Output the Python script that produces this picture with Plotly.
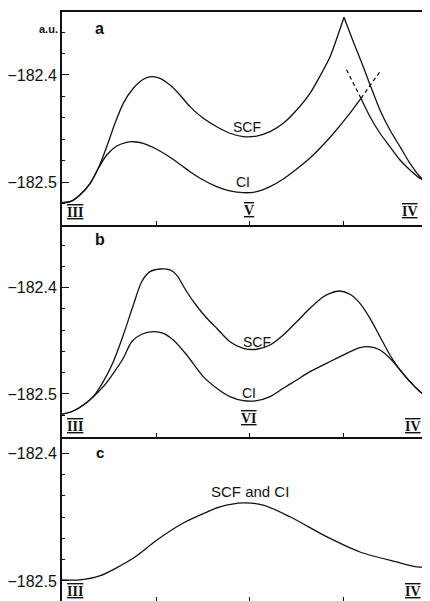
import plotly.graph_objects as go

# ---------------- data (x: reaction coordinate, tick spacing 1; y: energy in a.u.) -------------
# panel a
a_start_x = [0.00, 0.085, 0.19, 0.30, 0.386]
a_start_y = [-182.5190, -182.5181, -182.5118, -182.5009, -182.4870]
a_scf_left_x = a_start_x + [0.476, 0.564, 0.652, 0.759, 0.865, 0.954, 1.043, 1.149, 1.255, 1.362, 1.503, 1.646,
                            1.787, 1.929, 2.071, 2.213, 2.354, 2.497, 2.638, 2.780, 2.851, 2.936, 3.00]
a_scf_left_y = a_start_y + [-182.4668, -182.4450, -182.4264, -182.4124, -182.4040, -182.4016, -182.4031, -182.4093,
                            -182.4186, -182.4295, -182.4404, -182.4482, -182.4543, -182.4575, -182.4569, -182.4528,
                            -182.4450, -182.4326, -182.4171, -182.3953, -182.3832, -182.3627, -182.3462]
a_scf_right_x = [3.00, 3.099, 3.205, 3.277, 3.383, 3.489, 3.596, 3.702, 3.809, 3.915]
a_scf_right_y = [-182.3462, -182.3690, -182.3923, -182.4090, -182.4326, -182.4513, -182.4668, -182.4823, -182.4948, -182.5009]
a_ci_left_x = a_start_x + [0.476, 0.582, 0.688, 0.759, 0.865, 1.007, 1.149, 1.290, 1.362, 1.503, 1.646, 1.787,
                           1.929, 2.071, 2.213, 2.354, 2.497, 2.638, 2.777, 2.883, 3.032, 3.18]
a_ci_left_y = a_start_y + [-182.4746, -182.4662, -182.4627, -182.4622, -182.4637, -182.4692, -182.4767, -182.4855,
                           -182.4901, -182.4979, -182.5041, -182.5081, -182.5097, -182.5088, -182.5041, -182.4969,
                           -182.4876, -182.4774, -182.4652, -182.4550, -182.4391, -182.4217]
a_ci_right_x = [3.18, 3.277, 3.383, 3.489, 3.596, 3.702, 3.809, 3.915]
a_ci_right_y = [-182.4217, -182.4389, -182.4543, -182.4668, -182.4792, -182.4885, -182.4963, -182.5009]
a_dash1_x = [3.18, 3.383]
a_dash1_y = [-182.4217, -182.3969]
a_dash2_x = [3.18, 3.011]
a_dash2_y = [-182.4217, -182.3923]

# panel b
b_start_x = [0.00, 0.12, 0.227, 0.333]
b_start_y = [-182.5191, -182.5160, -182.5103, -182.5025]
b_end_x = [3.596, 3.702, 3.809, 3.915]
b_end_y = [-182.4774, -182.4884, -182.4978, -182.5040]
b_scf_x = b_start_x + [0.439, 0.546, 0.652, 0.759, 0.848, 0.936, 1.043, 1.149, 1.220, 1.327, 1.433, 1.539, 1.646,
                       1.787, 1.929, 2.071, 2.213, 2.354, 2.497, 2.638, 2.780, 2.851, 2.957, 3.064, 3.170, 3.277,
                       3.383, 3.489] + b_end_x
b_scf_y = b_start_y + [-182.4884, -182.4696, -182.4445, -182.4163, -182.3944, -182.3849, -182.3824, -182.3833,
                       -182.3881, -182.4038, -182.4172, -182.4285, -182.4382, -182.4508, -182.4570, -182.4579,
                       -182.4539, -182.4445, -182.4320, -182.4194, -182.4085, -182.4053, -182.4031, -182.4062,
                       -182.4147, -182.4288, -182.4461, -182.4633] + b_end_y
b_ci_x = b_start_x + [0.439, 0.546, 0.652, 0.741, 0.848, 0.971, 1.078, 1.184, 1.327, 1.503, 1.646, 1.787, 1.929,
                      2.071, 2.213, 2.354, 2.497, 2.638, 2.886, 3.029, 3.170, 3.259, 3.383, 3.489] + b_end_x
b_ci_y = b_start_y + [-182.4931, -182.4805, -182.4664, -182.4508, -182.4438, -182.4414, -182.4429, -182.4492,
                      -182.4633, -182.4837, -182.4946, -182.5025, -182.5063, -182.5063, -182.5025, -182.4946,
                      -182.4868, -182.4790, -182.4680, -182.4617, -182.4564, -182.4555, -182.4586, -182.4664] + b_end_y

# panel c
c_x = [0.00, 0.19, 0.40, 0.76, 1.01, 1.29, 1.54, 1.68, 1.93, 2.14, 2.43, 2.82, 3.17, 3.56, 3.78, 3.915]
c_y = [-182.4992, -182.4992, -182.4961, -182.4820, -182.4679, -182.4546, -182.4460, -182.4420, -182.4389,
       -182.4405, -182.4499, -182.4655, -182.4773, -182.4851, -182.4890, -182.4890]

x_ticks = [1, 2, 3]
y_major = [-182.5, -182.4]
y_labels = ["\u2212182.5", "\u2212182.4"]

# ---------------- figure ------------------------------------------------------------------------
fig = go.Figure()
BLACK = "#111111"
LW = 1.3

def line(x, y, ax, dash="solid"):
    fig.add_trace(go.Scatter(x=x, y=y, mode="lines", xaxis=ax[0], yaxis=ax[1],
                             line=dict(color=BLACK, width=LW, shape="spline", smoothing=0.8, dash=dash),
                             showlegend=False, hoverinfo="skip"))

line(a_scf_left_x, a_scf_left_y, ("x", "y"))
line(a_scf_right_x, a_scf_right_y, ("x", "y"))
line(a_ci_left_x, a_ci_left_y, ("x", "y"))
line(a_ci_right_x, a_ci_right_y, ("x", "y"))
line(a_dash1_x, a_dash1_y, ("x", "y"), dash="4px,3px")
line(a_dash2_x, a_dash2_y, ("x", "y"), dash="4px,3px")
line(b_scf_x, b_scf_y, ("x2", "y2"))
line(b_ci_x, b_ci_y, ("x2", "y2"))
line(c_x, c_y, ("x3", "y3"))

XR = [0, 3.915]
xcommon = dict(range=XR, showgrid=False, zeroline=False, showticklabels=False,
               tickvals=x_ticks, ticks="inside", ticklen=4, tickcolor=BLACK, tickwidth=1)
ycommon = dict(showgrid=False, zeroline=False, tickvals=y_major, ticktext=y_labels,
               ticks="inside", ticklen=7, tickwidth=1.2, tickcolor=BLACK,
               showline=True, linecolor=BLACK, linewidth=2,
               tickfont=dict(family="Liberation Sans, Arial", size=16, color=BLACK))

dom_a = [0.6389, 1.0]
dom_b = [0.2789, 0.6389]
dom_c = [0.0, 0.2789]

# the page body adds an 8px offset; margins compensate so the plot area spans 62..430 x 12..601
fig.update_layout(
    width=422, height=593,
    margin=dict(l=54, r=0, t=4, b=0),
    paper_bgcolor="white", plot_bgcolor="white",
    xaxis=dict(**xcommon, domain=[0, 1], anchor="y", showline=True, mirror=True,
               linecolor=BLACK, linewidth=1.5),
    yaxis=dict(**ycommon, domain=dom_a, anchor="x", range=[-182.5395, -182.3413],
               minor=dict(dtick=0.02, tick0=-182.5, ticks="inside", ticklen=3, tickcolor=BLACK)),
    xaxis2=dict(**xcommon, domain=[0, 1], anchor="y2", showline=True, linecolor=BLACK, linewidth=1.5),
    yaxis2=dict(**ycommon, domain=dom_b, anchor="x2", range=[-182.5402, -182.3407],
                minor=dict(dtick=0.02, tick0=-182.5, ticks="inside", ticklen=3, tickcolor=BLACK)),
    xaxis3=dict(**xcommon, domain=[0, 1], anchor="y3", showline=False),
    yaxis3=dict(**ycommon, domain=dom_c, anchor="x3", range=[-182.5157, -182.387],
                minor=dict(dtick=0.1 / 6, tick0=-182.5, ticks="inside", ticklen=3, tickcolor=BLACK)),
)

SANS = "Liberation Sans, Arial"
SERIF = "Liberation Serif, Times New Roman"

def ann(text, x, y, xr, yr, size=14, family=SANS, bold=False, roman=False, xanchor="center"):
    font = dict(family=SERIF if roman else family, size=size, color=BLACK)
    if roman:
        font["weight"] = "bold"
        font["lineposition"] = "under+over"
    elif bold:
        font["weight"] = "bold"
    fig.add_annotation(text=text, x=x, y=y, xref=xr, yref=yr, showarrow=False,
                       font=font, xanchor=xanchor, yanchor="middle")

# panel a
ann("a", 0.40, -182.3565, "x", "y", size=16, bold=True)
ann("a.u.", -0.005, -182.3574, "paper", "y", size=11, bold=True, xanchor="right")
ann("SCF", 1.97, -182.4481, "x", "y")
ann("CI", 1.93, -182.5000, "x", "y")
ann("III", 0.14, -182.5278, "x", "y", size=14, roman=True)
ann("V", 1.99, -182.5259, "x", "y", size=14, roman=True)
ann("IV", 3.70, -182.5269, "x", "y", size=14, roman=True)

# panel b
ann("b", 0.40, -182.3551, "x2", "y2", size=16, bold=True)
ann("SCF", 2.07, -182.4511, "x2", "y2")
ann("CI", 1.99, -182.4991, "x2", "y2")
ann("III", 0.14, -182.5310, "x2", "y2", size=14, roman=True)
ann("VI", 1.99, -182.5235, "x2", "y2", size=14, roman=True)
ann("IV", 3.73, -182.5310, "x2", "y2", size=14, roman=True)

# panel c
ann("c", 0.40, -182.3990, "x3", "y3", size=15, bold=True)
ann("SCF and CI", 2.00, -182.4303, "x3", "y3", size=15)
ann("III", 0.14, -182.5086, "x3", "y3", size=14, roman=True)
ann("IV", 3.73, -182.5086, "x3", "y3", size=14, roman=True)

fig.write_html("out.html")
